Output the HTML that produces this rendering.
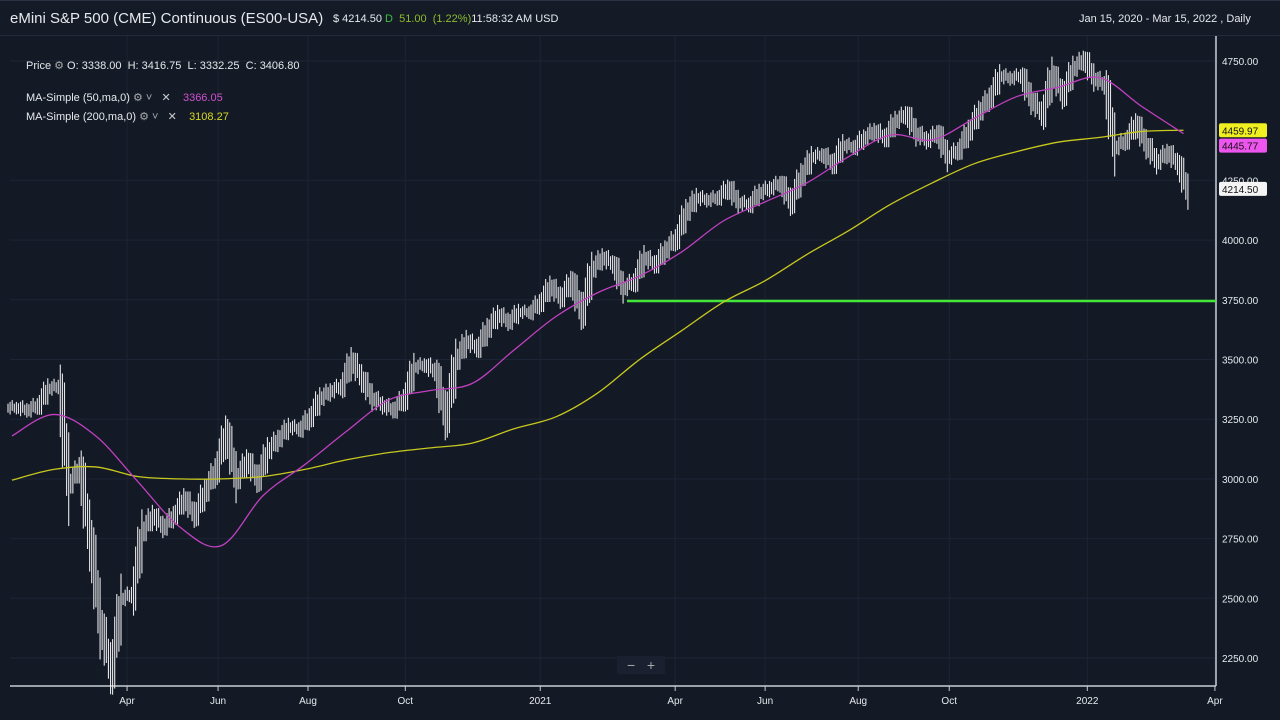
<!DOCTYPE html>
<html><head><meta charset="utf-8">
<style>
html,body{margin:0;padding:0;background:#131a26;width:1280px;height:720px;overflow:hidden;font-family:"Liberation Sans",sans-serif;}
#hdr{position:absolute;left:0;top:0;width:1280px;height:36px;border-top:1px solid #2a3344;border-bottom:1px solid #222b3a;box-sizing:border-box;background:#141b27;}
.t{position:absolute;white-space:nowrap;color:#e6e8ec;}
</style></head>
<body>
<div id="hdr">
 <div class="t" style="left:10px;top:9px;font-size:15px;">eMini S&amp;P 500 (CME) Continuous (ES00-USA)</div>
 <div class="t" style="left:333px;top:12px;font-size:11px;">$ 4214.50 <span style="color:#3fbf3f">D</span> <span style="color:#8dbb2a">&nbsp;51.00 &nbsp;(1.22%)</span>11:58:32 AM USD</div>
 <div class="t" style="left:1079px;top:12px;font-size:11px;">Jan 15, 2020 - Mar 15, 2022 , Daily</div>
</div>
<svg id="ch" width="1280" height="684" style="position:absolute;left:0;top:36px"></svg>
<div class="t" style="left:26px;top:59px;font-size:11px;">Price <span style="color:#aaa">⚙</span> O: 3338.00&nbsp; H: 3416.75&nbsp; L: 3332.25&nbsp; C: 3406.80</div>
<div class="t" style="left:26px;top:91px;font-size:11px;">MA-Simple (50,ma,0) <span style="color:#aaa">⚙ ˅</span> &nbsp;&nbsp;<span style="color:#ccc">✕</span> &nbsp;&nbsp;&nbsp;<span style="color:#d050d0">3366.05</span></div>
<div class="t" style="left:26px;top:110px;font-size:11px;">MA-Simple (200,ma,0) <span style="color:#aaa">⚙ ˅</span> &nbsp;&nbsp;<span style="color:#ccc">✕</span> &nbsp;&nbsp;&nbsp;<span style="color:#d8d820">3108.27</span></div>
<div class="t" style="left:617px;top:656px;width:48px;height:18px;background:#1a2030;color:#aaa;font-size:14px;text-align:center;line-height:18px;">−&nbsp;&nbsp; +</div>
<script>
const closes=[3300,3290,3310,3380,3390,2980,3050,2750,2400,2200,2500,2520,2780,2850,2800,2850,2920,2850,2950,3040,3200,3000,3080,3000,3120,3170,3220,3210,3260,3340,3370,3390,3500,3420,3340,3310,3290,3340,3470,3480,3450,3260,3500,3580,3550,3630,3690,3660,3700,3700,3740,3810,3760,3830,3700,3880,3930,3900,3800,3830,3930,3900,3960,4010,4120,4180,4170,4180,4220,4160,4150,4200,4220,4240,4160,4270,4350,4360,4320,4400,4390,4430,4460,4430,4500,4530,4450,4420,4450,4350,4380,4460,4540,4600,4690,4680,4690,4590,4530,4700,4610,4720,4760,4680,4650,4390,4420,4490,4400,4330,4370,4320,4200];
const maWeeks=[0,4,8,12,16,20,24,28,32,36,40,44,48,52,56,60,64,68,72,76,80,84,88,92,96,100,104,108,112];
const ma50=[3180,3270,3180,2990,2800,2720,2930,3060,3200,3330,3370,3400,3540,3680,3780,3850,3950,4080,4160,4240,4350,4440,4420,4510,4600,4640,4680,4560,4446];
const ma200=[2995,3040,3050,3010,3000,3000,3010,3040,3080,3110,3130,3150,3210,3260,3360,3500,3620,3740,3830,3940,4040,4150,4240,4320,4370,4410,4430,4455,4460];
const yTicks=[2250,2500,2750,3000,3250,3500,3750,4000,4250,4750];
const xLabels=["Apr","Jun","Aug","Oct","2021","Apr","Jun","Aug","Oct","2022","Apr"];
const xLabelWeeks=[11,19.7,28.3,37.6,50.5,63.4,72,80.9,89.6,102.8,115];
const NS="http://www.w3.org/2000/svg",svg=document.getElementById('ch');
const T=36;
function y(v){return 61-T+(4750-v)*0.2388;}
function x(w){return 12+w*10.46;}
function el(tag,a){const e=document.createElementNS(NS,tag);for(const k in a)e.setAttribute(k,a[k]);svg.appendChild(e);return e;}
yTicks.forEach(v=>{const g=el('line',{x1:10,x2:1216,y1:y(v),y2:y(v),stroke:'#1c2535','stroke-width':1});

});
xLabelWeeks.forEach(w=>{const g=el('line',{x1:x(w),x2:x(w),y1:0,y2:650,stroke:'#1c2535','stroke-width':1});

});
const ax=el('line',{x1:10,x2:1216,y1:650,y2:650,stroke:'#c8ccd2','stroke-width':1.5});


const ay=el('line',{x1:1216,x2:1216,y1:0,y2:650,stroke:'#c8ccd2','stroke-width':1.5});


yTicks.forEach(v=>{const tk=el('text',{x:1222,y:y(v)+4,fill:'#e6e8ec','font-size':10,'font-family':'Liberation Sans'});tk.textContent=v.toFixed(2);

});
xLabels.forEach((s,i)=>{const tk=el('text',{x:x(xLabelWeeks[i]),y:668,fill:'#e6e8ec','font-size':10,'text-anchor':'middle','font-family':'Liberation Sans'});tk.textContent=s;


el('line',{x1:x(xLabelWeeks[i]),x2:x(xLabelWeeks[i]),y1:650,y2:655,stroke:'#c8ccd2'});});
closes.forEach((c,i)=>{const o=i?closes[i-1]:c;const vol=25+0.3*Math.abs(c-o);
for(let k=0;k<5;k++){const a=o+(c-o)*k/5,b=o+(c-o)*(k+1)/5;const hi=Math.max(a,b)+vol*(0.6+(k%3)*0.3),lo=Math.min(a,b)-vol*(0.6+((k+1)%3)*0.3);
const bar=el('line',{x1:x(i)-4+k*2.1,x2:x(i)-4+k*2.1,y1:y(hi),y2:y(lo),stroke:'#e6e6e8','stroke-width':1.1});

}});
const sl=el('line',{x1:627,x2:1216,y1:y(3745),y2:y(3745),stroke:'#44e63a','stroke-width':2.5});


function poly(arr,col,name){const P=arr.map((v,i)=>[x(maWeeks[i]),y(v)]);let d='M'+P[0][0]+','+P[0][1];
for(let i=0;i<P.length-1;i++){const p0=P[Math.max(0,i-1)],p1=P[i],p2=P[i+1],p3=P[Math.min(P.length-1,i+2)];
d+=' C'+(p1[0]+(p2[0]-p0[0])/6)+','+(p1[1]+(p2[1]-p0[1])/6)+' '+(p2[0]-(p3[0]-p1[0])/6)+','+(p2[1]-(p3[1]-p1[1])/6)+' '+p2[0]+','+p2[1];}
const p=el('path',{d:d,fill:'none',stroke:col,'stroke-width':1.3});

}
poly(ma200,'#c8c81e','ma200-line');
poly(ma50,'#c040c0','ma50-line');
function badge(v,label,bg,name,dy){const g=el('rect',{x:1219,y:y(v)-7+dy,width:48,height:14,rx:2,fill:bg});


const t=el('text',{x:1222,y:y(v)+4+dy,fill:'#111','font-size':10,'font-family':'Liberation Sans'});t.textContent=label;}
badge(4459.97,'4459.97','#f0f020','ma200-badge',0);
badge(4445.77,'4445.77','#ee55ee','ma50-badge',12);
badge(4214.5,'4214.50','#f4f4f4','last-price-badge',0);
</script>
</body></html>
